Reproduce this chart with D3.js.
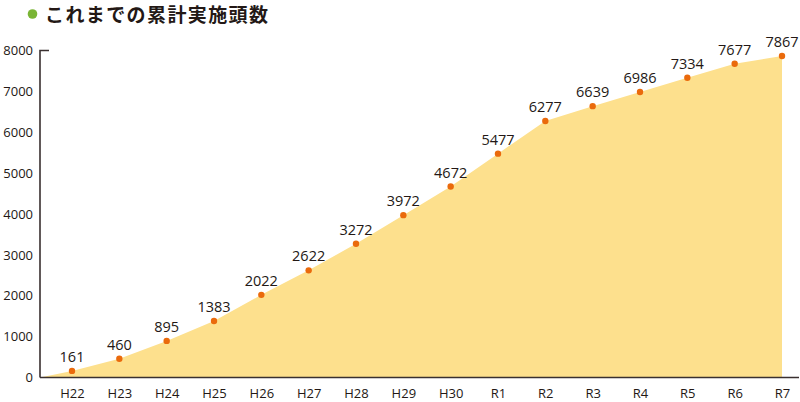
<!DOCTYPE html>
<html>
<head>
<meta charset="utf-8">
<script src="https://cdn.jsdelivr.net/npm/d3@7"></script>
<style>
  html, body { margin: 0; padding: 0; background: #fff; }
  svg { display: block; }
</style>
</head>
<body>
<svg id="chart" width="800" height="402"></svg>
<script>
const title = "これまでの累計実施頭数";
const categories = ["H22","H23","H24","H25","H26","H27","H28","H29","H30","R1","R2","R3","R4","R5","R6","R7"];
const values = [161,460,895,1383,2022,2622,3272,3972,4672,5477,6277,6639,6986,7334,7677,7867];
const yTicks = [0,1000,2000,3000,4000,5000,6000,7000,8000];

const svg = d3.select("#chart");
const ink = "#231815";
const fontLatin = "'Open Sans', 'Noto Sans', sans-serif";

const x = d3.scalePoint().domain(categories).range([72, 782]);
const y = d3.scaleLinear().domain([0, 8000]).range([377.5, 50.5]);
const x0 = 40;

// title
svg.append("circle").attr("cx", 32.5).attr("cy", 14).attr("r", 4.8).attr("fill", "#7ab535");
svg.append("text").attr("x", 45).attr("y", 21.5)
  .attr("font-family", "'Noto Sans CJK JP', sans-serif")
  .attr("font-weight", "bold").attr("font-size", 19)
  .attr("letter-spacing", 1.4)
  .attr("fill", ink).text(title);

// area
const pts = [[x0, 0]].concat(categories.map((c, i) => [x(c), values[i]]));
pts.push([x(categories[categories.length-1]), 0]);
const area = d3.area().x(d => d[0]).y0(y(0)).y1(d => y(d[1]));
svg.append("path").attr("d", area(pts)).attr("fill", "#fde08d");

// y axis
const yAxis = d3.axisLeft(y).tickValues(yTicks).tickFormat(d3.format("d")).tickSize(0).tickPadding(7);
const gy = svg.append("g").attr("transform", `translate(${x0},0)`).call(yAxis);
gy.select(".domain").remove();
gy.selectAll("text").attr("font-family", fontLatin).attr("font-size", 13).attr("fill", ink);

svg.append("path")
  .attr("d", `M${x0+9},${y(8000)}H${x0}V${y(0)}`)
  .attr("fill", "none").attr("stroke", "#3a3030").attr("stroke-width", 1.6);
svg.append("line").attr("x1", x0).attr("x2", 799).attr("y1", y(0)).attr("y2", y(0))
  .attr("stroke", "#3a3030").attr("stroke-width", 1.6);

// x axis
const xAxis = d3.axisBottom(x).tickSize(0).tickPadding(11);
const gx = svg.append("g").attr("transform", `translate(0,${y(0)})`).call(xAxis);
gx.select(".domain").remove();
gx.selectAll("text").attr("font-family", fontLatin).attr("font-size", 13).attr("fill", ink);

// points
svg.selectAll("circle.pt").data(values).enter().append("circle")
  .attr("class", "pt")
  .attr("cx", (d, i) => x(categories[i])).attr("cy", d => y(d))
  .attr("r", 3.2).attr("fill", "#ea6a0c");

// labels
svg.selectAll("text.lbl").data(values).enter().append("text")
  .attr("class", "lbl")
  .attr("x", (d, i) => x(categories[i])).attr("y", d => y(d) - 9)
  .attr("text-anchor", "middle")
  .attr("font-family", fontLatin).attr("font-size", 14.5)
  .attr("fill", ink).text(d => d);
</script>
</body>
</html>
